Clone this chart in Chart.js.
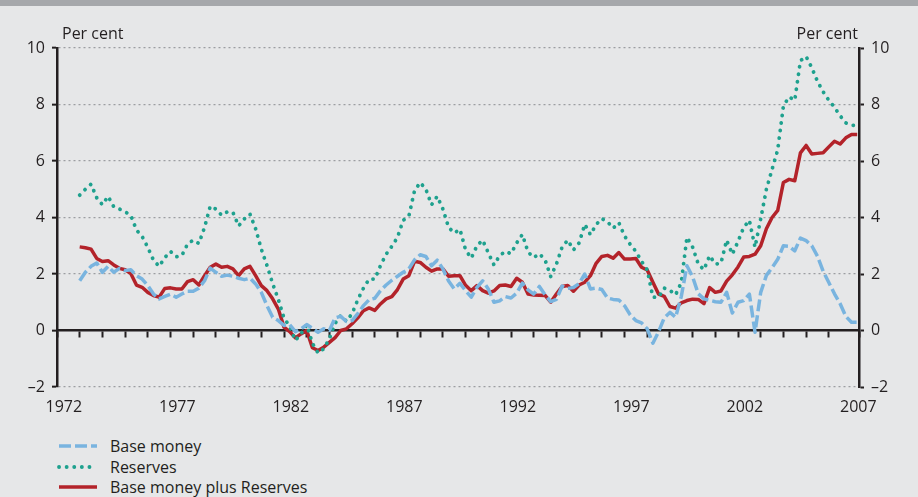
<!DOCTYPE html>
<html>
<head>
<meta charset="utf-8">
<script src="https://cdn.jsdelivr.net/npm/chart.js@4"></script>
<style>
  html, body { margin: 0; padding: 0; background: #e6e7e8; }
  #wrap { position: relative; width: 918px; height: 497px; background: #e6e7e8; overflow: hidden;
          font-family: "Open Sans", sans-serif; color: #231f20; }
  #band { position: absolute; left: 0; top: 0; width: 918px; height: 6px; background: #a6a8ab; }
  #chart { position: absolute; left: 0; top: 0; }
  .unit { position: absolute; top: 23px; font-size: 16px; line-height: 20px; }
  #legend { position: absolute; left: 57px; top: 436px; font-size: 16px; }
  .row { height: 20.5px; display: flex; align-items: center; }
  .row svg { width: 42px; height: 10px; margin-right: 11px; }
</style>
</head>
<body>
<div id="wrap">
  <div id="band"></div>
  <canvas id="chart" width="918" height="420"></canvas>
  <div class="unit" style="left:62px">Per cent</div>
  <div class="unit" style="right:60px">Per cent</div>
  <div id="legend"></div>
</div>
<script>
// quarterly, 1973 Q1 to 2007 Q2, annual growth in per cent
const startYear = 1973;

const baseMoney = [
  1.76, 2.06, 2.27, 2.39,  2.06, 2.27, 2.06, 2.2,  2.12, 2.15, 1.94, 1.82,
  1.59, 1.29, 1.12, 1.21,  1.29, 1.18, 1.29, 1.39,  1.39, 1.5, 1.76, 2.21,
  2.06, 1.92, 1.96, 1.92,  1.85, 1.8, 1.85, 1.65,  1.35, 0.88, 0.47, 0.35,
  0.18, 0.21, -0.04, 0.06,  0.21, 0.08, -0.06, 0.06,  0.0, 0.45, 0.5, 0.32,
  0.35, 0.6, 0.88, 1.09,  1.14, 1.41, 1.61, 1.78,  1.92, 2.06, 2.18, 2.5,
  2.68, 2.62, 2.29, 2.49,  2.18, 1.75, 1.47, 1.67,  1.41, 1.18, 1.53, 1.76,
  1.47, 1.0, 1.05, 1.2,  1.15, 1.32, 1.68, 1.44,  1.29, 1.56, 1.26, 1.02,
  1.1, 1.57, 1.49, 1.52,  1.66, 2.0, 1.47, 1.5,  1.45, 1.15, 1.1, 1.08,
  0.88, 0.55, 0.35, 0.27,  0.06, -0.45, -0.05, 0.45,  0.64, 0.47, 1.2, 2.29,
  1.9, 1.3, 1.12, 1.07,  1.02, 1.0, 1.35, 0.62,  1.0, 1.06, 1.29, -0.06,
  1.35, 1.95, 2.22, 2.52,  3.0, 2.98, 2.82, 3.27,  3.18, 3.0, 2.63, 2.1,
  1.7, 1.3, 0.95, 0.5,  0.29, 0.29
];

const reserves = [
  4.79, 5.0, 5.18, 4.7,  4.45, 4.75, 4.38, 4.3,  4.2, 4.08, 3.56, 3.33,
  2.94, 2.49, 2.27, 2.58,  2.8, 2.61, 2.65, 3.06,  3.2, 3.08, 3.65, 4.4,
  4.3, 4.08, 4.2, 4.18,  3.7, 3.95, 4.12, 3.6,  2.88, 2.3, 1.66, 1.1,
  0.44, 0.15, -0.35, -0.12,  0.2, -0.45, -0.8, -0.65,  -0.29, 0.25, 0.53, 0.33,
  0.6, 1.09, 1.5, 1.82,  1.82, 2.3, 2.7, 2.98,  3.3, 3.9, 4.05, 4.95,
  5.24, 5.0, 4.45, 4.75,  4.3, 3.65, 3.45, 3.58,  2.85, 2.56, 3.0, 3.2,
  2.75, 2.32, 2.65, 2.8,  2.72, 3.1, 3.4, 2.78,  2.58, 2.72, 2.5, 1.91,
  2.35, 2.95, 3.2, 2.85,  3.1, 3.76, 3.39, 3.75,  3.96, 3.85, 3.62, 3.82,
  3.35, 3.05, 2.8, 2.45,  2.15, 1.18, 1.18, 1.5,  1.42, 1.26, 1.7, 3.3,
  2.95, 2.35, 2.15, 2.65,  2.35, 2.38, 3.2, 2.7,  3.15, 3.65, 3.9, 2.95,
  3.95, 5.0, 5.7, 6.4,  7.95, 8.27, 8.15, 9.55,  9.7, 9.3, 8.82, 8.45,
  8.15, 7.9, 7.6, 7.35,  7.27, 7.25
];

const basePlusReserves = [
  2.96, 2.93, 2.88, 2.55,  2.44, 2.47, 2.32, 2.2,  2.15, 2.02, 1.61, 1.53,
  1.35, 1.24, 1.18, 1.49,  1.51, 1.47, 1.47, 1.73,  1.8, 1.61, 1.94, 2.24,
  2.35, 2.24, 2.27, 2.18,  1.94, 2.18, 2.27, 1.94,  1.59, 1.41, 1.12, 0.76,
  0.12, -0.04, -0.26, -0.12,  0.0, -0.61, -0.71, -0.59,  -0.42, -0.25, 0.0, 0.06,
  0.24, 0.45, 0.7, 0.8,  0.71, 0.94, 1.12, 1.2,  1.45, 1.82, 1.94, 2.45,
  2.41, 2.24, 2.1, 2.18,  2.18, 1.92, 1.94, 1.94,  1.6, 1.41, 1.59, 1.41,
  1.32, 1.4, 1.59, 1.61,  1.56, 1.85, 1.71, 1.29,  1.26, 1.25, 1.24, 1.0,
  1.29, 1.56, 1.59, 1.39,  1.61, 1.71, 1.94, 2.38,  2.62, 2.66, 2.56, 2.76,
  2.53, 2.53, 2.55, 2.24,  2.14, 1.71, 1.29, 1.21,  0.85, 0.79, 0.98, 1.06,
  1.11, 1.1, 0.95, 1.52,  1.35, 1.4, 1.75, 1.97,  2.25, 2.6, 2.62, 2.7,
  3.0, 3.6, 4.0, 4.25,  5.24, 5.35, 5.3, 6.29,  6.55, 6.25, 6.27, 6.29,
  6.5, 6.7, 6.6, 6.82,  6.94, 6.94
];

const yearLabels = [1972, 1977, 1982, 1987, 1992, 1997, 2002, 2007];
const yTicks = [-2, 0, 2, 4, 6, 8, 10];

const dark = '#231f20';
const tickFont = { family: '"Open Sans", sans-serif', size: 16 };

const toPoints = (vals) => vals.map((v, i) => ({ x: startYear + i / 4, y: v }));

const series = [
  { label: 'Base money', values: baseMoney, color: '#79b4df', dash: [12, 4], cap: 'butt', width: 3.5 },
  { label: 'Reserves', values: reserves, color: '#1ea18e', dash: [0.1, 7.5], cap: 'round', width: 3.8 },
  { label: 'Base money plus Reserves', values: basePlusReserves, color: '#b3232a', dash: [], cap: 'butt', width: 3.5 }
];

const ctx = document.getElementById('chart').getContext('2d');
const chart = new Chart(ctx, {
  type: 'line',
  data: {
    datasets: series.map((s) => ({
      label: s.label,
      data: toPoints(s.values),
      borderColor: s.color,
      borderWidth: s.width,
      borderDash: s.dash,
      borderCapStyle: s.cap,
      borderJoinStyle: 'round',
      pointRadius: 0,
      tension: 0,
      fill: false
    }))
  },
  options: {
    responsive: false,
    animation: false,
    layout: { padding: { top: 48, left: 0, right: 0, bottom: 0 } },
    plugins: { legend: { display: false }, tooltip: { enabled: false } },
    scales: {
      x: {
        type: 'linear',
        min: 1972,
        max: 2007.33,
        grid: { display: false, drawTicks: false },
        border: { display: false },
        ticks: {
          font: tickFont,
          color: dark,
          padding: 11,
          maxRotation: 0,
          autoSkip: false,
          callback: (v) => String(Math.round(v - 0.3))
        },
        afterBuildTicks: (scale) => {
          scale.ticks = yearLabels.map((y) => ({ value: y + 0.3 }));
        },
        afterFit: (scale) => { scale.height = 33; }
      },
      xZero: {
        type: 'linear',
        axis: 'x',
        position: { y: 0 },
        min: 1972,
        max: 2007.33,
        ticks: { display: false, stepSize: 1 },
        grid: { drawOnChartArea: false, drawTicks: true, tickLength: 6, tickWidth: 2, tickColor: dark },
        border: { display: true, color: dark, width: 2.5 }
      },
      y: {
        min: -2,
        max: 10,
        afterBuildTicks: (scale) => { scale.ticks = yTicks.map((v) => ({ value: v })); },
        ticks: {
          font: tickFont,
          color: dark,
          padding: 7,
          callback: (v) => (v < 0 ? '\u2013' + Math.abs(v) : String(v))
        },
        grid: {
          color: (c) => (c.tick && c.tick.value === 0 ? 'rgba(0,0,0,0)' : '#9c9ea1'),
          lineWidth: 1.3,
          drawTicks: true,
          tickLength: 5,
          tickWidth: 2,
          tickColor: dark
        },
        border: { display: true, color: dark, width: 2.5, dash: [2, 3] },
        afterFit: (scale) => { scale.width = 57; }
      },
      y2: {
        position: 'right',
        min: -2,
        max: 10,
        afterBuildTicks: (scale) => { scale.ticks = yTicks.map((v) => ({ value: v })); },
        ticks: {
          font: tickFont,
          color: dark,
          padding: 7,
          callback: (v) => (v < 0 ? '\u2013' + Math.abs(v) : String(v))
        },
        grid: { drawOnChartArea: false, drawTicks: true, tickLength: 5, tickWidth: 2, tickColor: dark },
        border: { display: true, color: dark, width: 2.5 },
        afterFit: (scale) => { scale.width = 59; }
      }
    }
  }
});

// legend below the chart
const legend = document.getElementById('legend');
series.forEach((s) => {
  const row = document.createElement('div');
  row.className = 'row';
  const dash = s.dash.length ? s.dash.join(' ') : 'none';
  row.innerHTML =
    '<svg viewBox="0 0 42 10"><line x1="2" y1="5" x2="40" y2="5" stroke="' + s.color +
    '" stroke-width="' + s.width + '" stroke-dasharray="' + dash + '" stroke-linecap="' + s.cap + '"/></svg>' +
    '<span>' + s.label + '</span>';
  legend.appendChild(row);
});
</script>
</body>
</html>
